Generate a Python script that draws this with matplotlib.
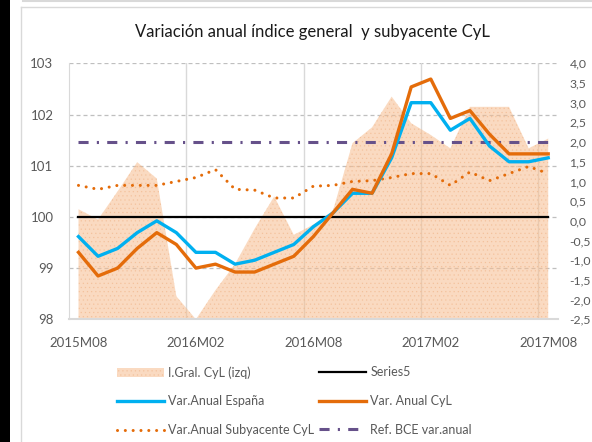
"""
Variación anual índice general y subyacente CyL
salida: out.png (592x442)
"""

import numpy as np
import matplotlib
matplotlib.use("Agg")
import matplotlib.pyplot as plt
from matplotlib.lines import Line2D
from matplotlib.patches import Patch, Rectangle

W, H = 592, 442

TITULO = "Variación anual índice general  y subyacente CyL"

MESES = [
    "2015M08", "2015M09", "2015M10", "2015M11", "2015M12",
    "2016M01", "2016M02", "2016M03", "2016M04", "2016M05", "2016M06",
    "2016M07", "2016M08", "2016M09", "2016M10", "2016M11", "2016M12",
    "2017M01", "2017M02", "2017M03", "2017M04", "2017M05", "2017M06",
    "2017M07", "2017M08",
]
TICK_MESES = ["2015M08", "2016M02", "2016M08", "2017M02", "2017M08"]

# eje izquierdo (índice)
INDICE_CYL = [
    100.15, 99.95, 100.5, 101.07, 100.75, 98.45, 98.0, 98.57, 99.08, 99.77,
    100.4, 99.65, 99.85, 100.12, 101.44, 101.75, 102.35, 101.83, 101.6,
    101.34, 102.15, 102.15, 102.15, 101.34, 101.53,
]
SERIES5 = [
    100, 100, 100, 100, 100, 100, 100, 100, 100, 100, 100, 100, 100,
    100, 100, 100, 100, 100, 100, 100, 100, 100, 100, 100, 100,
]

# eje derecho (variación anual %)
VAR_ESPANA = [
    -0.4, -0.9, -0.7, -0.3, 0.0, -0.3, -0.8, -0.8, -1.1, -1.0, -0.8, -0.6,
    -0.15, 0.2, 0.7, 0.7, 1.6, 3.0, 3.0, 2.3, 2.6, 1.9, 1.5, 1.5, 1.6,
]
VAR_CYL = [
    -0.8, -1.4, -1.2, -0.7, -0.3, -0.6, -1.2, -1.1, -1.3, -1.3, -1.1, -0.9,
    -0.4, 0.2, 0.8, 0.7, 1.7, 3.4, 3.6, 2.6, 2.8, 2.2, 1.7, 1.7, 1.7,
]
SUBYACENTE_CYL = [
    0.9, 0.8, 0.9, 0.9, 0.9, 1.0, 1.1, 1.3, 0.8, 0.78, 0.58, 0.58,
    0.88, 0.9, 1.0, 1.02, 1.1, 1.2, 1.2, 0.9, 1.24, 1.02, 1.2, 1.38, 1.2,
]
REF_BCE = [
    2.0, 2.0, 2.0, 2.0, 2.0, 2.0, 2.0, 2.0, 2.0, 2.0, 2.0, 2.0, 2.0,
    2.0, 2.0, 2.0, 2.0, 2.0, 2.0, 2.0, 2.0, 2.0, 2.0, 2.0, 2.0,
]

TICKS_IZQ = [98, 99, 100, 101, 102, 103]
TICKS_DER = [-2.5, -2.0, -1.5, -1.0, -0.5, 0.0, 0.5, 1.0, 1.5, 2.0, 2.5, 3.0, 3.5, 4.0]

LABELS = {
    "area": "I.Gral. CyL (izq)",
    "s5": "Series5",
    "esp": "Var.Anual España",
    "cyl": "Var. Anual CyL",
    "sub": "Var.Anual Subyacente CyL",
    "bce": "Ref. BCE var.anual",
}

GRIS_TXT = "#595959"
AREA_FC = "#F7BD8E"
AZUL = "#00B0F0"
NARANJA = "#E46C0A"
MORADO = "#66518A"

STY_AREA = dict(facecolor=AREA_FC, alpha=0.55, hatch="....", edgecolor="#F0B488", linewidth=0)
STY_S5 = dict(color="black", lw=1.6)
STY_ESP = dict(color=AZUL, lw=2.4)
STY_CYL = dict(color=NARANJA, lw=2.4)
STY_SUB = dict(color=NARANJA, lw=2.2, linestyle=(0, (0.01, 2.55)), dash_capstyle="round")
STY_BCE = dict(color=MORADO, lw=2.2, linestyle=(0, (3.3, 2.7, 0.7, 2.7)), dash_capstyle="butt")


def fx(px):
    return px / W


def fy(py):
    return 1 - py / H


def main():
    plt.rcParams["font.family"] = ["Lato", "DejaVu Sans"]
    plt.rcParams["hatch.linewidth"] = 0.4

    fig = plt.figure(figsize=(W / 100, H / 100), dpi=100)

    # marco de la hoja
    fig.patches.append(Rectangle((0, 0), fx(10), 1, transform=fig.transFigure,
                                 facecolor="black", edgecolor="none"))
    fig.lines.append(Line2D([fx(20.5), fx(20.5)], [fy(6.7), 0], transform=fig.transFigure,
                            color="#D9D9D9", lw=1))
    fig.lines.append(Line2D([fx(20.5), 1], [fy(6.7), fy(6.7)], transform=fig.transFigure,
                            color="#D9D9D9", lw=1))
    fig.lines.append(Line2D([fx(23), 1], [fy(1), fy(1)], transform=fig.transFigure,
                            color="#D9D9D9", lw=1.5))

    left, right, top, bottom = 68.7, 558.0, 63.3, 319.3
    ax = fig.add_axes([fx(left), fy(bottom), (right - left) / W, (bottom - top) / H])
    x = np.arange(len(MESES))

    # rejilla
    for y in TICKS_IZQ[1:]:
        ax.axhline(y, color="#BFBFBF", lw=0.9, linestyle=(0, (3.2, 2.4)), zorder=0)
    for k in (5.5, 11.5, 17.5, 23.5):
        ax.axvline(k, color="#D9D9D9", lw=1, zorder=0)

    ax.fill_between(x, 98, INDICE_CYL, zorder=1, **STY_AREA)
    ax.plot(x, SERIES5, zorder=2, **STY_S5)

    ax.set_xlim(-0.5, len(MESES) - 0.5)
    ax.set_ylim(98, 103)
    ax.set_yticks(TICKS_IZQ)
    ax.set_xticks([MESES.index(m) for m in TICK_MESES])
    ax.set_xticklabels(TICK_MESES)
    ax.tick_params(axis="both", length=0, labelsize=9.5, labelcolor=GRIS_TXT)
    ax.tick_params(axis="y", pad=11)
    ax.tick_params(axis="x", pad=13)
    ax.spines[["top", "right"]].set_visible(False)
    ax.spines["left"].set_color("#D9D9D9")
    ax.spines["bottom"].set_color("#D9D9D9")
    ax.spines["bottom"].set_linewidth(1.5)

    ax2 = ax.twinx()
    ax2.plot(x, REF_BCE, **STY_BCE)
    ax2.plot(x, SUBYACENTE_CYL, **STY_SUB)
    ax2.plot(x, VAR_ESPANA, **STY_ESP)
    ax2.plot(x, VAR_CYL, **STY_CYL)
    ax2.set_ylim(-2.5, 4.0)
    ax2.set_yticks(TICKS_DER)
    ax2.set_yticklabels([f"{v:.1f}".replace(".", ",") for v in TICKS_DER])
    ax2.tick_params(axis="y", length=0, labelsize=8.8, labelcolor=GRIS_TXT, pad=8.3)
    for s in ax2.spines.values():
        s.set_visible(False)

    fig.text(fx(312.5), fy(32), TITULO, ha="center", va="center", fontsize=12, color="#1a1a1a")

    # leyenda en dos columnas
    h_area = Patch(**STY_AREA)
    h_s5 = Line2D([], [], **STY_S5)
    h_esp = Line2D([], [], **STY_ESP)
    h_cyl = Line2D([], [], **STY_CYL)
    h_sub = Line2D([], [], **STY_SUB)
    h_bce = Line2D([], [], **STY_BCE)

    leg_kw = dict(loc="upper left", frameon=False, fontsize=9, labelcolor=GRIS_TXT,
                  handlelength=3.75, handletextpad=0.35, labelspacing=1.35,
                  borderpad=0, borderaxespad=0)
    fig.legend([h_area, h_esp, h_sub], [LABELS["area"], LABELS["esp"], LABELS["sub"]],
               bbox_to_anchor=(fx(117), fy(366)), **leg_kw)
    fig.legend([h_s5, h_cyl, h_bce], [LABELS["s5"], LABELS["cyl"], LABELS["bce"]],
               bbox_to_anchor=(fx(319), fy(366)), **leg_kw)

    fig.savefig("out.png", dpi=100)
    plt.close(fig)


if __name__ == "__main__":
    main()
